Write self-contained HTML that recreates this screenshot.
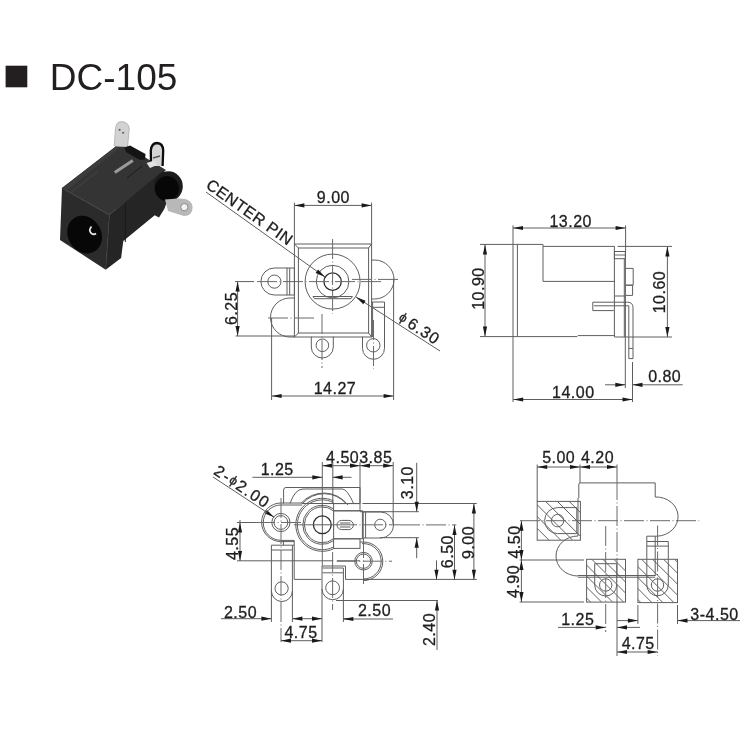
<!DOCTYPE html>
<html><head><meta charset="utf-8"><style>
html,body{margin:0;padding:0;background:#fff;}
svg{display:block;will-change:transform;}
text{font-family:"Liberation Sans",sans-serif;}
.l,.lf{fill:none;stroke:#5e5e5e;stroke-width:1;}
.lf{fill:#fff;}
.lt{fill:none;stroke:#2a2a2a;stroke-width:1.3;}
.cl{fill:none;stroke:#6a6a6a;stroke-width:1;stroke-dasharray:20 2.5 1 2.5;}
.h{fill:none;stroke:#585858;stroke-width:0.95;}
.ar{fill:#1a1a1a;}
.t{font-size:16px;fill:#1e1e1e;letter-spacing:0.5px;stroke:#1e1e1e;stroke-width:0.3px;}
.tw{letter-spacing:1px;}
.tw2{letter-spacing:1.6px;}
</style></head><body>
<svg width="750" height="750" viewBox="0 0 750 750">
<rect x="5.6" y="65.7" width="21.7" height="21.6" fill="#231f20"/>
<text x="49.8" y="89.6" style="font-size:37px;fill:#231f20">DC-105</text>

<g>
 <path d="M114.2,145.5 L115.6,127.5 Q116.5,121.5 121.8,121.6 Q128.4,122 129.3,128.5 L127.6,147 L120.8,148.5 Z" fill="#d2d2d2" stroke="#9a9a9a" stroke-width="0.6"/>
 <circle cx="119.6" cy="129.8" r="1.1" fill="#666"/>
 <circle cx="123.2" cy="132.8" r="1.1" fill="#666"/>
 <polygon points="62,188 115.7,146.5 128,147 166,170 109.4,214.7" fill="#343434"/>
  <polygon points="109.4,214.7 164,170 168,199 164.3,209 159,217.4 154.7,215.3 123.3,240.9 121.1,258 105.7,269.7" fill="#252525"/>
 <line x1="125.3" y1="202" x2="125.3" y2="242" stroke="#1a1a1a" stroke-width="1"/>
 <polygon points="62,188 109.4,214.7 105.7,269.7 60,240" fill="#2b2b2b"/>
 <line x1="62" y1="188" x2="109.4" y2="214.7" stroke="#444" stroke-width="1.2"/>
 <line x1="109.4" y1="214.7" x2="105.9" y2="269" stroke="#383838" stroke-width="0.8"/>
 <clipPath id="ff"><polygon points="62,188 109.4,214.7 105.7,269.7 60,240"/></clipPath>
 <ellipse cx="84.6" cy="234.6" rx="16.6" ry="19.6" fill="#070707" transform="rotate(-30 84.6 234.6)"/>
 <path d="M91.5,226.5 q-3.5,4 0,7 q2.5,1.5 4.5,0" fill="none" stroke="#e6e6e6" stroke-width="1.8"/>
 <ellipse cx="168.3" cy="186.3" rx="14.5" ry="15" fill="#1c1c1c"/>
 <ellipse cx="167" cy="188.5" rx="12" ry="12.5" fill="#070707"/>
 <path d="M151,166 L150.8,150.5 Q151.5,143.2 157,143 Q163,143.3 163.2,150.5 L162.6,166" fill="#d5d5d5" stroke="#0d0d0d" stroke-width="2.3"/>
 <line x1="153" y1="158" x2="160" y2="156" stroke="#555" stroke-width="1.5"/>
 <polygon points="146.6,163 154,160.4 157,165 150,168" fill="#e2e2e2"/>
 <polygon points="124.5,147.5 130,145.5 145.5,154 145,159.5 140,160 126,152" fill="#141414"/>
 <polygon points="62,188 115.7,146.5 119,148.5 66,191" fill="#3c3c3c"/>
 <line x1="70" y1="193" x2="98" y2="171" stroke="#444" stroke-width="1"/>
 <line x1="114.8" y1="172.4" x2="132.8" y2="160.4" stroke="#9a9a9a" stroke-width="3"/>
 <line x1="127" y1="178" x2="142" y2="166" stroke="#1a1a1a" stroke-width="1"/>
 <path d="M165,199.5 L178,198.5 Q192,198 192.6,207.4 Q192.6,215.5 183.8,216 L168,211 Z" fill="#b8b8b8"/>
 <circle cx="184.3" cy="207.2" r="3.6" fill="#f2f2f2" stroke="#777" stroke-width="0.8"/>
</g>
<line class="l" x1="294.4" y1="202.6" x2="294.4" y2="244"/>
<line class="l" x1="371.6" y1="202.6" x2="371.6" y2="244"/>
<line class="l" x1="294.4" y1="205.4" x2="371.6" y2="205.4"/>
<polygon class="ar" points="294.4,205.4 304.4,203.3 304.4,207.5"/>
<polygon class="ar" points="371.6,205.4 361.6,207.5 361.6,203.3"/>
<text class="t" x="333.4" y="202.7" text-anchor="middle">9.00</text>
<rect class="l" x="294.4" y="244" width="77.2" height="93"/>
<rect class="l" x="298.4" y="248" width="70.2" height="85"/>
<line class="l" x1="294.4" y1="244" x2="298.4" y2="248"/>
<line class="l" x1="371.6" y1="244" x2="368.6" y2="248"/>
<line class="l" x1="294.4" y1="337" x2="298.4" y2="333"/>
<line class="l" x1="371.6" y1="337" x2="368.6" y2="333"/>
<circle class="l" cx="332.6" cy="281.6" r="27.5"/>
<circle class="l" cx="332.6" cy="281.6" r="16.3"/>
<circle class="lt" cx="332.6" cy="281.6" r="8.7"/>
<path class="l" d="M313,296.5 L352.4,296.5 L351,298.7 L314.5,298.7 Z"/>
<line class="cl" x1="332.6" y1="239" x2="332.6" y2="314"/>
<line class="cl" x1="257" y1="281.6" x2="382" y2="281.6"/>
<path class="l" d="M287,268 L274.4,268 A13.5,13.5 0 0 0 274.4,295 L287,295"/>
<circle class="l" cx="274.4" cy="281.6" r="6.6"/>
<rect class="l" x="287" y="268" width="7.4" height="27"/>
<line class="l" x1="289.7" y1="268" x2="289.7" y2="295"/>
<path class="l" d="M294.4,298 L290,298 A19.5,19.5 0 0 0 290,337 L294.4,337"/>
<line class="cl" x1="268" y1="318" x2="314" y2="318"/>
<line class="cl" x1="322" y1="314" x2="322" y2="368"/>
<path class="l" d="M371.6,260.2 L374.5,260 A19.5,19.5 0 0 1 374.5,299 L371.6,299"/>
<line class="cl" x1="352" y1="279.4" x2="398" y2="279.4"/>
<path class="l" d="M311.3,336.7 L311.3,347 A11,11 0 0 0 333.3,347 L333.3,336.7"/>
<circle class="l" cx="322.4" cy="345.3" r="6.3"/>
<path class="l" d="M371.6,302 L384.5,302 L384.5,348.3 A11,11 0 0 1 362.5,348.3 L362.5,336.7"/>
<line class="l" x1="371.6" y1="307.3" x2="384.5" y2="307.3"/>
<line class="l" x1="372.6" y1="302" x2="372.6" y2="337"/>
<circle class="l" cx="373.3" cy="345.3" r="6.7"/>
<line class="cl" x1="373.5" y1="320" x2="373.5" y2="369"/>
<line class="l" x1="271.6" y1="318" x2="271.6" y2="400"/>
<line class="l" x1="393.6" y1="279" x2="393.6" y2="400"/>
<line class="l" x1="271.6" y1="396" x2="393.6" y2="396"/>
<polygon class="ar" points="271.6,396 281.6,393.9 281.6,398.1"/>
<polygon class="ar" points="393.6,396 383.6,398.1 383.6,393.9"/>
<text class="t" x="335" y="394.1" text-anchor="middle">14.27</text>
<line class="l" x1="235" y1="281.6" x2="254" y2="281.6"/>
<line class="l" x1="235.6" y1="336" x2="294" y2="336"/>
<line class="l" x1="237.6" y1="281.6" x2="237.6" y2="336"/>
<polygon class="ar" points="237.6,281.6 239.7,291.6 235.5,291.6"/>
<polygon class="ar" points="237.6,336 235.5,326 239.7,326"/>
<text class="t" x="237.2" y="308.5" text-anchor="middle" transform="rotate(-90 237.2 308.5)">6.25</text>
<line class="l" x1="206" y1="192" x2="325" y2="277"/>
<polygon class="ar" points="325,277 315.64,272.9 318.08,269.48"/>
<text class="t" x="204.9" y="187.2" text-anchor="start" transform="rotate(35.3 204.9 187.2)">CENTER PIN</text>
<line class="l" x1="356" y1="297" x2="440" y2="351"/>
<polygon class="ar" points="356,297 365.55,300.64 363.28,304.17"/>
<text class="t tw" x="397.2" y="320.6" text-anchor="start" transform="rotate(32.7 397.2 320.6)"><tspan style="font-size:13px" dy="-1.6">&#981;</tspan><tspan dy="1.6">&#8202;6.30</tspan></text>
<line class="l" x1="513" y1="225.4" x2="513" y2="402"/>
<line class="l" x1="625.6" y1="225.4" x2="625.6" y2="251.6"/>
<line class="l" x1="513" y1="228" x2="625.6" y2="228"/>
<polygon class="ar" points="513,228 523,225.9 523,230.1"/>
<polygon class="ar" points="625.6,228 615.6,230.1 615.6,225.9"/>
<text class="t" x="570.7" y="226.7" text-anchor="middle">13.20</text>
<line class="l" x1="517.4" y1="244.4" x2="517.4" y2="336.6"/>
<path class="l" d="M513,244.4 L543,244.4 L543,246.4 L614.6,246.4"/>
<line class="l" x1="543" y1="246.4" x2="543" y2="281.4"/>
<line class="l" x1="543" y1="281.4" x2="614.6" y2="281.4"/>
<path class="l" d="M513,336.6 L577,336.6 L578,335.6 L614.6,335.6"/>
<line class="l" x1="614.4" y1="246.4" x2="614.4" y2="337"/>
<line class="l" x1="617.6" y1="246.4" x2="672" y2="246.4"/>
<rect class="l" x="614.4" y="251.5" width="11" height="7.2"/>
<line class="cl" x1="614.4" y1="255" x2="625.4" y2="255"/>
<line class="l" x1="625.4" y1="251.6" x2="625.4" y2="337"/>
<line class="l" x1="624.3" y1="258.8" x2="624.3" y2="337"/>
<path class="l" d="M625.8,268.4 L633.2,268.4 L633.2,285.2 L625.8,285.2"/>
<path class="l" d="M625.8,285.2 L632.6,285.2 L632.6,295.4 L625.8,295.4"/>
<line class="l" x1="614.6" y1="296" x2="625.6" y2="296"/>
<path class="l" d="M613.8,310.6 L592.8,310.6 L592.8,302.2 L627.5,302.2 Q633,302.2 633,307.7 L633,358.6 L628.8,358.6 L628.8,305.8 L594,305.8"/>
<line class="l" x1="628.8" y1="348.4" x2="633" y2="348.4"/>
<line class="l" x1="614.6" y1="337" x2="672" y2="337"/>
<line class="l" x1="667.4" y1="246.4" x2="667.4" y2="337"/>
<polygon class="ar" points="667.4,246.4 669.5,256.4 665.3,256.4"/>
<polygon class="ar" points="667.4,337 665.3,327 669.5,327"/>
<text class="t" x="665.1" y="292" text-anchor="middle" transform="rotate(-90 665.1 292)">10.60</text>
<line class="l" x1="480" y1="244.4" x2="513" y2="244.4"/>
<line class="l" x1="480" y1="336.6" x2="513" y2="336.6"/>
<line class="l" x1="485" y1="244.4" x2="485" y2="336.6"/>
<polygon class="ar" points="485,244.4 487.1,254.4 482.9,254.4"/>
<polygon class="ar" points="485,336.6 482.9,326.6 487.1,326.6"/>
<text class="t" x="484.1" y="288.5" text-anchor="middle" transform="rotate(-90 484.1 288.5)">10.90</text>
<line class="l" x1="632.5" y1="362" x2="632.5" y2="402"/>
<line class="l" x1="513.2" y1="399.5" x2="632.5" y2="399.5"/>
<polygon class="ar" points="513.2,399.5 523.2,397.4 523.2,401.6"/>
<polygon class="ar" points="632.5,399.5 622.5,401.6 622.5,397.4"/>
<text class="t" x="573.3" y="397.5" text-anchor="middle">14.00</text>
<line class="l" x1="625.3" y1="337" x2="625.3" y2="388"/>
<line class="l" x1="605" y1="384.8" x2="625.3" y2="384.8"/>
<polygon class="ar" points="625.3,384.8 615.3,386.9 615.3,382.7"/>
<line class="l" x1="632.5" y1="384.8" x2="682.7" y2="384.8"/>
<polygon class="ar" points="632.5,384.8 642.5,382.7 642.5,386.9"/>
<text class="t" x="664.7" y="382.3" text-anchor="middle">0.80</text>
<line class="l" x1="322.3" y1="462" x2="322.3" y2="548"/>
<line class="l" x1="360" y1="462" x2="360" y2="503.5"/>
<line class="l" x1="393.2" y1="462" x2="393.2" y2="524"/>
<line class="l" x1="322.3" y1="465.7" x2="393.2" y2="465.7"/>
<polygon class="ar" points="322.3,465.7 332.3,463.6 332.3,467.8"/>
<polygon class="ar" points="360,465.7 350,467.8 350,463.6"/>
<polygon class="ar" points="360,465.7 370,463.6 370,467.8"/>
<polygon class="ar" points="393.2,465.7 383.2,467.8 383.2,463.6"/>
<text class="t" x="359.2" y="463.1" text-anchor="middle">4.503.85</text>
<line class="l" x1="252.4" y1="477.3" x2="322.3" y2="477.3"/>
<polygon class="ar" points="322.3,477.3 312.3,479.4 312.3,475.2"/>
<line class="l" x1="332.6" y1="477.3" x2="351.5" y2="477.3"/>
<polygon class="ar" points="332.6,477.3 342.6,475.2 342.6,479.4"/>
<text class="t" x="277.2" y="475.4" text-anchor="middle">1.25</text>
<line class="l" x1="213" y1="477" x2="274.2" y2="517.2"/>
<polygon class="ar" points="274.2,517.2 264.69,513.47 266.99,509.95"/>
<text class="t tw2" x="212.8" y="473.6" text-anchor="start" transform="rotate(33.9 212.8 473.6)">2-<tspan style="font-size:13px" dy="-1.6">&#981;</tspan><tspan dy="1.6">2.00</tspan></text>
<path class="l" d="M283.6,503.5 L283.6,490 Q283.6,487.5 286,487.5 L360,487.5 L360,503.5"/>
<path class="l" d="M290,503.5 Q295,489 303,489 L342.4,489 Q347,489 353.6,503.5"/>
<line class="l" x1="302.3" y1="503.5" x2="360" y2="503.5"/>
<line class="l" x1="362.4" y1="503.5" x2="476.8" y2="503.5"/>
<path class="l" d="M333.6,500.83 A26.5,26.5 0 1 0 333.6,548.77"/>
<path class="l" d="M333.6,502.61 A24.9,24.9 0 1 0 333.6,546.99"/>
<path class="l" d="M333.6,508.91 A19.5,19.5 0 1 0 333.6,540.69"/>
<path class="l" d="M333.6,510.92 A17.9,17.9 0 1 0 333.6,538.68"/>
<circle class="lt" cx="322.3" cy="524.8" r="8.9"/>
<path class="l" d="M300.8,503.5 A30.5,30.5 0 0 1 348,505"/>
<path class="l" d="M302.5,503.5 A29,29 0 0 1 346,503.5"/>
<rect class="l" x="333.6" y="510.8" width="28.8" height="28"/>
<rect class="l" x="333.6" y="503.6" width="26.4" height="7.2"/>
<rect class="l" x="333.6" y="538.8" width="26.4" height="9.6"/>
<path class="l" d="M341.6,520.4 L348.8,520.4 A4.6,4.6 0 0 1 348.8,529.6 L341.6,529.6 A4.6,4.6 0 0 1 341.6,520.4 Z"/>
<line class="l" x1="340" y1="523" x2="350.4" y2="523"/>
<line class="l" x1="340" y1="527" x2="350.4" y2="527"/>
<path class="l" d="M363.2,512 L380.6,512 A13,13 0 0 1 380.6,538 L363.2,538 Z"/>
<line class="l" x1="365.6" y1="512" x2="365.6" y2="538"/>
<circle class="l" cx="380.3" cy="524.8" r="5.6"/>
<path class="l" d="M302.3,503 L280.9,503 A19.3,19.3 0 0 0 280.9,541.6 L294.3,541.6"/>
<path class="l" d="M302.3,505 L280.9,505 A17.65,17.65 0 0 0 280.9,540.3"/>
<circle class="l" cx="280.9" cy="522.5" r="9.1"/>
<circle class="l" cx="280.9" cy="522.5" r="6.9"/>
<path class="l" d="M360,542 L363.5,542 A19.3,19.3 0 0 1 363.5,580.6"/>
<path class="l" d="M362,543.6 L363.5,543.6 A17.7,17.7 0 0 1 363.5,579"/>
<circle class="l" cx="363.5" cy="561.2" r="8.8"/>
<circle class="l" cx="363.5" cy="561.2" r="7.2"/>
<line class="cl" x1="336.8" y1="561.2" x2="392" y2="561.2"/>
<line class="cl" x1="363.5" y1="538" x2="363.5" y2="585"/>
<line class="l" x1="271.4" y1="545.2" x2="271.4" y2="622"/>
<line class="l" x1="271.4" y1="545.2" x2="294.2" y2="545.2"/>
<line class="l" x1="271.4" y1="550" x2="292.4" y2="550"/>
<line class="l" x1="292.4" y1="545.2" x2="292.4" y2="622"/>
<line class="l" x1="294.2" y1="540.4" x2="294.2" y2="579.4"/>
<line class="l" x1="281" y1="540.4" x2="294.2" y2="540.4"/>
<line class="l" x1="283.4" y1="540.4" x2="283.4" y2="545.2"/>
<path class="l" d="M271.4,591 A10.5,10.5 0 0 0 292.4,591"/>
<circle class="l" cx="281.6" cy="588.4" r="6.6"/>
<line class="l" x1="294.2" y1="579.4" x2="321.2" y2="579.4"/>
<line class="l" x1="345.5" y1="579.4" x2="476.8" y2="579.4"/>
<path class="l" d="M322,642 L322,566 L345.5,566 L345.5,579.4"/>
<line class="l" x1="322.6" y1="568" x2="343.4" y2="568"/>
<line class="l" x1="322.6" y1="572.8" x2="343.4" y2="572.8"/>
<line class="l" x1="343.4" y1="568" x2="343.4" y2="622"/>
<path class="l" d="M322,589 A10.7,10.7 0 0 0 343.4,589"/>
<circle class="l" cx="332.6" cy="587.8" r="6.9"/>
<line class="cl" x1="281" y1="498" x2="281" y2="642"/>
<line class="cl" x1="322.3" y1="548" x2="322.3" y2="566"/>
<line class="cl" x1="332.6" y1="552" x2="332.6" y2="610"/>
<line class="l" x1="332.8" y1="462" x2="332.8" y2="503.5"/>
<line class="cl" x1="333.6" y1="510" x2="333.6" y2="540"/>
<line class="cl" x1="255" y1="522.5" x2="305" y2="522.5"/>
<line class="l" x1="308" y1="524.8" x2="337" y2="524.8"/>
<line class="cl" x1="337" y1="524.8" x2="400" y2="524.8"/>
<line class="cl" x1="294" y1="524.8" x2="308" y2="524.8"/>
<line class="l" x1="360" y1="511.7" x2="418.9" y2="511.7"/>
<line class="l" x1="416.7" y1="462.8" x2="416.7" y2="511.7"/>
<polygon class="ar" points="416.7,511.7 414.6,501.7 418.8,501.7"/>
<line class="l" x1="380" y1="537.7" x2="418.9" y2="537.7"/>
<line class="l" x1="416.7" y1="537.7" x2="416.7" y2="558.2"/>
<polygon class="ar" points="416.7,537.7 418.8,547.7 414.6,547.7"/>
<text class="t" x="413.5" y="482.6" text-anchor="middle" transform="rotate(-90 413.5 482.6)">3.10</text>
<line class="cl" x1="400" y1="524.9" x2="456.3" y2="524.9"/>
<line class="l" x1="454.5" y1="524.9" x2="454.5" y2="579.8"/>
<polygon class="ar" points="454.5,524.9 456.6,534.9 452.4,534.9"/>
<polygon class="ar" points="454.5,579.8 452.4,569.8 456.6,569.8"/>
<line class="l" x1="436.5" y1="560.4" x2="436.5" y2="579.8"/>
<polygon class="ar" points="436.5,579.8 434.4,569.8 438.6,569.8"/>
<text class="t" x="453.3" y="551.6" text-anchor="middle" transform="rotate(-90 453.3 551.6)">6.50</text>
<line class="l" x1="473.9" y1="503.5" x2="473.9" y2="579.8"/>
<polygon class="ar" points="473.9,503.5 476,513.5 471.8,513.5"/>
<polygon class="ar" points="473.9,579.8 471.8,569.8 476,569.8"/>
<text class="t" x="473.9" y="542.5" text-anchor="middle" transform="rotate(-90 473.9 542.5)">9.00</text>
<line class="l" x1="237" y1="560.8" x2="333.2" y2="560.8"/>
<line class="l" x1="336.8" y1="560.8" x2="360" y2="560.8"/>
<line class="l" x1="240" y1="520" x2="240" y2="561"/>
<polygon class="ar" points="240,522.6 242.1,532.6 237.9,532.6"/>
<polygon class="ar" points="240,561 237.9,551 242.1,551"/>
<line class="l" x1="237" y1="522.5" x2="255" y2="522.5"/>
<text class="t" x="237.9" y="543.5" text-anchor="middle" transform="rotate(-90 237.9 543.5)">4.55</text>
<line class="l" x1="221" y1="618.7" x2="271.4" y2="618.7"/>
<polygon class="ar" points="271.4,618.7 261.4,620.8 261.4,616.6"/>
<line class="l" x1="292.4" y1="618.7" x2="322" y2="618.7"/>
<polygon class="ar" points="292.4,618.7 302.4,616.6 302.4,620.8"/>
<polygon class="ar" points="322,618.7 312,620.8 312,616.6"/>
<line class="l" x1="343.4" y1="618.7" x2="352" y2="618.7"/>
<text class="t" x="240.5" y="618.1" text-anchor="middle">2.50</text>
<line class="l" x1="281" y1="640.7" x2="322" y2="640.7"/>
<polygon class="ar" points="281,640.7 291,638.6 291,642.8"/>
<polygon class="ar" points="322,640.7 312,642.8 312,638.6"/>
<text class="t" x="301" y="638.1" text-anchor="middle">4.75</text>
<line class="l" x1="343.4" y1="619" x2="393" y2="619"/>
<polygon class="ar" points="343.4,619 353.4,616.9 353.4,621.1"/>
<text class="t" x="374.5" y="616.1" text-anchor="middle">2.50</text>
<line class="l" x1="336" y1="600.5" x2="438" y2="600.5"/>
<line class="l" x1="437" y1="600.6" x2="437" y2="650"/>
<polygon class="ar" points="437,600.6 439.1,610.6 434.9,610.6"/>
<text class="t" x="434.9" y="629.5" text-anchor="middle" transform="rotate(-90 434.9 629.5)">2.40</text>
<line class="l" x1="537.2" y1="464.5" x2="537.2" y2="501.4"/>
<line class="l" x1="580" y1="464.5" x2="580" y2="483"/>
<line class="l" x1="537.2" y1="467" x2="617" y2="467"/>
<polygon class="ar" points="537.2,467 547.2,464.9 547.2,469.1"/>
<polygon class="ar" points="580,467 570,469.1 570,464.9"/>
<polygon class="ar" points="580,467 590,464.9 590,469.1"/>
<polygon class="ar" points="617,467 607,469.1 607,464.9"/>
<text class="t" x="558.7" y="463.3" text-anchor="middle">5.00</text>
<text class="t" x="597.5" y="463.3" text-anchor="middle">4.20</text>
<path class="l" d="M578.8,498 L578.8,484 L579.8,482.9 L655.2,482.9 L655.2,497 A22,19.6 0 0 1 657,536.2 L646.8,536.2 L646.8,559.3"/>
<line class="l" x1="578" y1="498" x2="578" y2="536"/>
<path class="l" d="M578,536 A22,20 0 0 0 578,576"/>
<line class="l" x1="646.8" y1="541.5" x2="668.3" y2="541.5"/>
<line class="l" x1="646.8" y1="546.1" x2="668.3" y2="546.1"/>
<line class="l" x1="668.3" y1="541.5" x2="668.3" y2="559.3"/>
<line class="l" x1="655.2" y1="536.2" x2="655.2" y2="576"/>
<line class="l" x1="578" y1="575.5" x2="655.2" y2="575.5"/>
<line class="l" x1="578" y1="577.2" x2="655.2" y2="577.2"/>
<clipPath id="c537"><rect x="537.2" y="501.4" width="43.2" height="38.8"/></clipPath>
<g clip-path="url(#c537)"><path class="h" d="M463,501.4 L501.8,540.2 M474.8,501.4 L513.6,540.2 M486.6,501.4 L525.4,540.2 M498.4,501.4 L537.2,540.2 M510.2,501.4 L549,540.2 M522,501.4 L560.8,540.2 M533.8,501.4 L572.6,540.2 M545.6,501.4 L584.4,540.2 M557.4,501.4 L596.2,540.2 M569.2,501.4 L608,540.2"/></g>
<rect class="l" x="537.2" y="501.4" width="43.2" height="38.8"/>
<path class="l" d="M576.8,507.6 L557.6,507.6 A13,13 0 0 0 557.6,533.6 L576.8,533.6 Z"/>
<circle class="l" cx="557.6" cy="520.6" r="6.2"/>
<clipPath id="c586"><rect x="586.6" y="559.3" width="38.9" height="42.8"/></clipPath>
<g clip-path="url(#c586)"><path class="h" d="M547.8,559.3 L590.6,602.1 M558.8,559.3 L601.6,602.1 M569.8,559.3 L612.6,602.1 M580.8,559.3 L623.6,602.1 M591.8,559.3 L634.6,602.1 M602.8,559.3 L645.6,602.1 M613.8,559.3 L656.6,602.1 M624.8,559.3 L667.6,602.1"/></g>
<rect class="l" x="586.6" y="559.3" width="38.9" height="42.8"/>
<path class="l" d="M594.7,563.7 L616.7,563.7 L616.7,585 A11,11 0 0 1 594.7,585 Z"/>
<circle class="l" cx="605.7" cy="585" r="6.2"/>
<clipPath id="c637"><rect x="637.9" y="559.3" width="39.6" height="43.3"/></clipPath>
<g clip-path="url(#c637)"><path class="h" d="M597.6,559.3 L640.9,602.6 M608.6,559.3 L651.9,602.6 M619.6,559.3 L662.9,602.6 M630.6,559.3 L673.9,602.6 M641.6,559.3 L684.9,602.6 M652.6,559.3 L695.9,602.6 M663.6,559.3 L706.9,602.6 M674.6,559.3 L717.9,602.6"/></g>
<rect class="l" x="637.9" y="559.3" width="39.6" height="43.3"/>
<path class="l" d="M646.8,559.3 L646.8,585 A10.75,10.75 0 0 0 668.3,585 L668.3,559.3"/>
<circle class="l" cx="657.5" cy="585" r="6.2"/>
<line class="cl" x1="657.6" y1="525.5" x2="657.6" y2="656"/>
<line class="cl" x1="605.7" y1="526" x2="605.7" y2="632"/>
<line class="l" x1="617" y1="464.5" x2="617" y2="480"/>
<line class="cl" x1="617" y1="480" x2="617" y2="600"/>
<line class="l" x1="617" y1="600" x2="617" y2="656"/>
<line class="cl" x1="520" y1="520.7" x2="699.2" y2="520.7"/>
<line class="l" x1="519.6" y1="560" x2="584" y2="560"/>
<line class="l" x1="519.6" y1="602" x2="584" y2="602"/>
<line class="l" x1="521.4" y1="520.7" x2="521.4" y2="602"/>
<polygon class="ar" points="521.4,520.7 523.5,530.7 519.3,530.7"/>
<polygon class="ar" points="521.4,560 519.3,550 523.5,550"/>
<polygon class="ar" points="521.4,560 523.5,570 519.3,570"/>
<polygon class="ar" points="521.4,602 519.3,592 523.5,592"/>
<text class="t" x="519.9" y="542" text-anchor="middle" transform="rotate(-90 519.9 542)">4.50</text>
<text class="t" x="518.9" y="581.5" text-anchor="middle" transform="rotate(-90 518.9 581.5)">4.90</text>
<line class="l" x1="558" y1="627.4" x2="605.7" y2="627.4"/>
<polygon class="ar" points="605.7,627.4 595.7,629.5 595.7,625.3"/>
<text class="t" x="577.8" y="625.1" text-anchor="middle">1.25</text>
<line class="l" x1="617" y1="627.4" x2="640" y2="627.4"/>
<polygon class="ar" points="617,627.4 627,625.3 627,629.5"/>
<line class="l" x1="617" y1="620.6" x2="637.9" y2="620.6"/>
<polygon class="ar" points="637.9,620.6 627.9,622.7 627.9,618.5"/>
<line class="l" x1="637.9" y1="605" x2="637.9" y2="624"/>
<line class="l" x1="617" y1="652" x2="657.6" y2="652"/>
<polygon class="ar" points="617,652 627,649.9 627,654.1"/>
<polygon class="ar" points="657.6,652 647.6,654.1 647.6,649.9"/>
<text class="t" x="638.2" y="648.7" text-anchor="middle">4.75</text>
<line class="l" x1="677.5" y1="605" x2="677.5" y2="624"/>
<line class="l" x1="677.5" y1="620.6" x2="740" y2="620.6"/>
<polygon class="ar" points="677.5,620.6 687.5,618.5 687.5,622.7"/>
<text class="t" x="714.5" y="620.1" text-anchor="middle">3-4.50</text>
</svg></body></html>
